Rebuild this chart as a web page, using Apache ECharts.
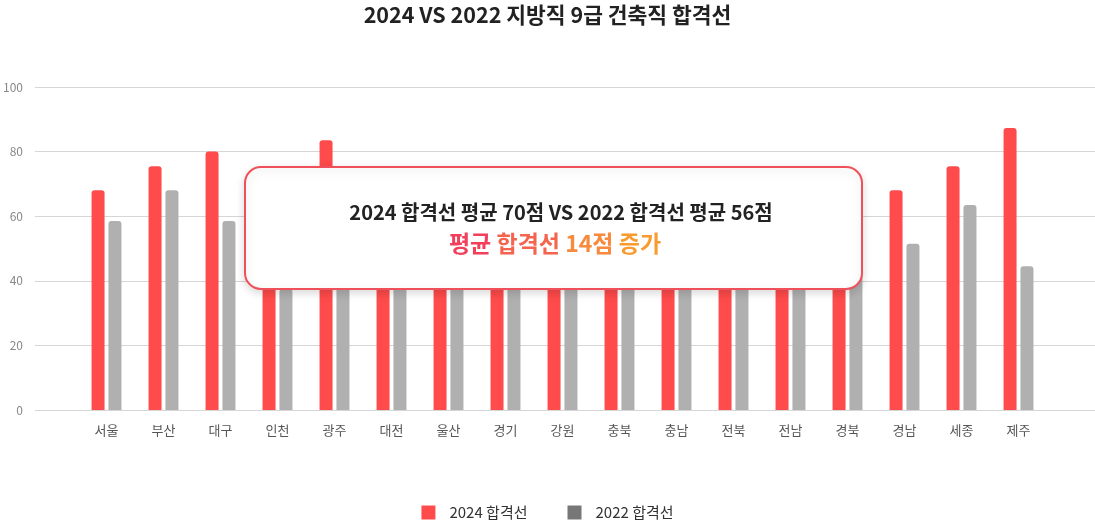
<!DOCTYPE html>
<html>
<head>
<meta charset="utf-8">
<script src="https://cdn.jsdelivr.net/npm/echarts@6/dist/echarts.min.js"></script>
<style>
  html, body { margin: 0; padding: 0; background: #fff; }
  #chart { width: 1095px; height: 525px; }
</style>
</head>
<body>
<div id="chart"></div>
<script>
  // 지역 / 합격선
  const regions = ['서울', '부산', '대구', '인천', '광주', '대전', '울산', '경기', '강원', '충북', '충남', '전북', '전남', '경북', '경남', '세종', '제주'];
  const score2024 = [68, 75.5, 80, 63, 83.5, 67, 66, 64, 60, 66, 67, 64, 65, 70, 68, 75.5, 87.3];
  const score2022 = [58.5, 68, 58.5, 37.5, 58, 56, 55, 60, 54, 58, 57, 59, 56, 57, 51.5, 63.5, 44.5];
  const yTicks = [0, 20, 40, 60, 80, 100];

  const font = '"Noto Sans CJK KR", "Noto Sans", sans-serif';
  const chart = echarts.init(document.getElementById('chart'));

  const option = {
    textStyle: { fontFamily: font },
    title: {
      text: '2024 VS 2022 지방직 9급 건축직 합격선',
      left: 'center',
      top: -1,
      textStyle: { fontSize: 21.5, fontWeight: 'bold', color: '#222', fontFamily: font }
    },
    legend: {
      bottom: 0,
      left: 'center',
      itemWidth: 14,
      itemHeight: 14,
      itemGap: 40,
      icon: 'rect',
      textStyle: { fontSize: 15, color: '#333', fontFamily: font, padding: [0, 0, 0, 9] },
      data: [
        { name: '2024 합격선' },
        { name: '2022 합격선', itemStyle: { color: '#777' } }
      ]
    },
    grid: [
      { left: 78, right: 48, top: 87, bottom: 115 },
      { left: 30, right: 0, top: 87, bottom: 115 }
    ],
    xAxis: [
      {
        type: 'category',
        gridIndex: 0,
        data: regions,
        axisLine: { show: false },
        axisTick: { show: false },
        axisLabel: { color: '#555', fontSize: 13, margin: 14, fontFamily: font }
      },
      {
        type: 'value',
        gridIndex: 1,
        min: 0, max: 1,
        show: false
      }
    ],
    yAxis: [
      {
        type: 'value',
        gridIndex: 0,
        min: 0, max: yTicks[yTicks.length - 1], interval: 20,
        show: false
      },
      {
        type: 'value',
        gridIndex: 1,
        min: 0, max: yTicks[yTicks.length - 1], interval: 20,
        axisLine: { show: false },
        axisTick: { show: false },
        axisLabel: { color: '#888', fontSize: 12, margin: 12, fontFamily: font },
        splitLine: { lineStyle: { color: '#d6d6d6', width: 1 } }
      }
    ],
    series: [
      {
        name: '2024 합격선',
        type: 'bar',
        xAxisIndex: 0, yAxisIndex: 0,
        data: score2024,
        barWidth: 13,
        barGap: '30%',
        itemStyle: { color: '#ff4b4b', borderRadius: [3, 3, 0, 0] }
      },
      {
        name: '2022 합격선',
        type: 'bar',
        xAxisIndex: 0, yAxisIndex: 0,
        data: score2022,
        barWidth: 13,
        barGap: '30%',
        itemStyle: { color: '#b0b0b0', borderRadius: [3, 3, 0, 0] }
      }
    ],
    graphic: [
      {
        type: 'rect',
        z: 100,
        shape: { x: 245, y: 167, width: 617, height: 122, r: 16 },
        style: {
          fill: '#fff',
          stroke: '#f0505a',
          lineWidth: 2,
          shadowBlur: 10,
          shadowColor: 'rgba(0,0,0,0.15)',
          shadowOffsetY: 3
        }
      },
      {
        type: 'text',
        z: 101,
        x: 561, y: 212,
        style: {
          text: '2024 합격선 평균 70점 VS 2022 합격선 평균 56점',
          fill: '#222',
          font: 'bold 20px ' + font,
          align: 'center',
          verticalAlign: 'middle'
        }
      },
      {
        type: 'text',
        z: 101,
        x: 555, y: 243,
        style: {
          text: '{a|평균} {b|합격선} {c|14점} {d|증가}',
          font: 'bold 23px ' + font,
          align: 'center',
          verticalAlign: 'middle',
          rich: {
            a: { fill: '#f2405c', font: 'bold 23px ' + font },
            b: { fill: '#f4644f', font: 'bold 23px ' + font },
            c: { fill: '#f78a3c', font: 'bold 23px ' + font },
            d: { fill: '#f99c30', font: 'bold 23px ' + font }
          }
        }
      }
    ]
  };

  chart.setOption(option);
</script>
</body>
</html>
